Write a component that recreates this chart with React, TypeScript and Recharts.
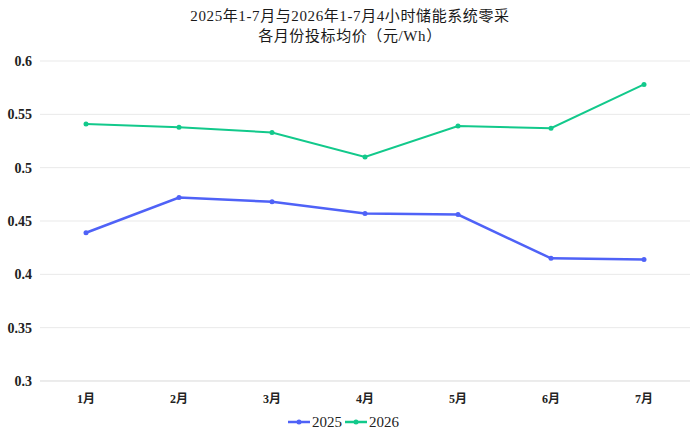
import React from 'react';
import { LineChart, Line, XAxis, YAxis, CartesianGrid, Legend } from 'recharts';

const months = ['1月', '2月', '3月', '4月', '5月', '6月', '7月'];
const price2025 = [0.439, 0.472, 0.468, 0.457, 0.456, 0.415, 0.414];
const price2026 = [0.541, 0.538, 0.533, 0.510, 0.539, 0.537, 0.578];
const yTicks = [0.3, 0.35, 0.4, 0.45, 0.5, 0.55, 0.6];

const titleLines = ['2025年1-7月与2026年1-7月4小时储能系统零采', '各月份投标均价（元/Wh）'];

const serif = '"Liberation Serif", "DejaVu Serif", "Noto Sans CJK SC", serif';
const colors = { y2025: '#4f62f7', y2026: '#12c98b' };

const data = months.map((m, i) => ({ month: m, '2025': price2025[i], '2026': price2026[i] }));

const YTick = (props: any) => {
  const { x, y, payload } = props;
  return (
    <text x={x} y={y} dy={5} textAnchor="end" fontFamily={serif} fontSize={14} fontWeight={600} fill="#222">
      {String(Number(Number(payload.value).toFixed(2)))}
    </text>
  );
};

const XTick = (props: any) => {
  const { x, y, payload } = props;
  return (
    <text x={x} y={y} dy={12} textAnchor="middle" fontFamily={serif} fontSize={12} fontWeight={600} fill="#222">
      {payload.value}
    </text>
  );
};

const LegendContent = () => (
  <div style={{ display: 'flex', justifyContent: 'center', alignItems: 'center', height: 24, fontFamily: serif, fontSize: 15, color: '#222' }}>
    {[['2025', colors.y2025], ['2026', colors.y2026]].map(([name, c]) => (
      <span key={name} style={{ display: 'flex', alignItems: 'center', marginRight: 3 }}>
        <svg width={22} height={10} style={{ marginRight: 2 }}>
          <line x1={0} y1={5} x2={22} y2={5} stroke={c} strokeWidth={2.5} />
          <circle cx={11} cy={5} r={2.5} fill={c} />
        </svg>
        {name}
      </span>
    ))}
  </div>
);

export default function App() {
  return (
    <div style={{ position: 'absolute', left: 0, top: 0, width: 700, height: 439, background: '#fff', fontFamily: serif }}>
      <div style={{ position: 'absolute', top: 6, left: 0, width: 700, textAlign: 'center', fontSize: 15, lineHeight: '20px', color: '#1a1a1a', letterSpacing: 0.6 }}>
        {titleLines.map((t) => <div key={t}>{t}</div>)}
      </div>
      <LineChart width={700} height={439} data={data} margin={{ top: 61, right: 10, bottom: 4, left: 0 }}>
        <CartesianGrid vertical={false} stroke="#e9e9e9" />
        <XAxis
          dataKey="month"
          axisLine={{ stroke: '#e3e3e3' }}
          tickLine={false}
          tickMargin={4}
          padding={{ left: 46, right: 46 }}
          tick={<XTick />}
        />
        <YAxis
          width={40}
          domain={[0.3, 0.6]}
          ticks={yTicks}
          axisLine={false}
          tickLine={false}
          tick={<YTick />}
        />
        <Legend verticalAlign="bottom" content={<LegendContent />} wrapperStyle={{ bottom: 5 }} />
        <Line type="linear" dataKey="2025" stroke={colors.y2025} strokeWidth={2.5} dot={{ r: 2.5, fill: colors.y2025, strokeWidth: 0 }} activeDot={false} isAnimationActive={false} />
        <Line type="linear" dataKey="2026" stroke={colors.y2026} strokeWidth={2} dot={{ r: 2.5, fill: colors.y2026, strokeWidth: 0 }} activeDot={false} isAnimationActive={false} />
      </LineChart>
    </div>
  );
}
